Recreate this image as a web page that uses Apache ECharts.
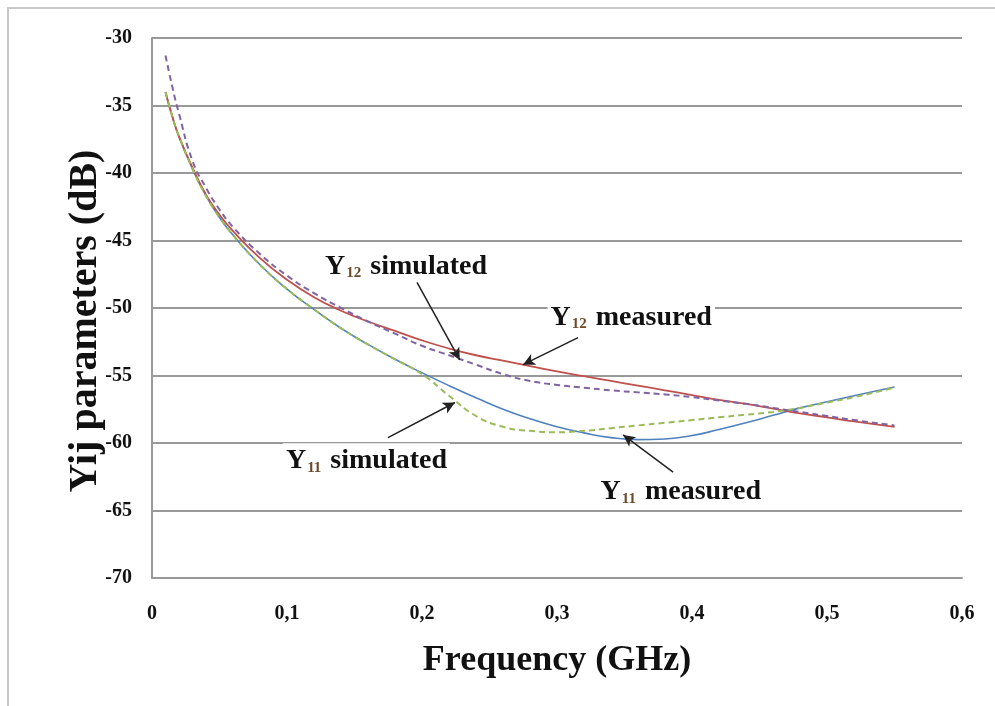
<!DOCTYPE html>
<html>
<head>
<meta charset="utf-8">
<script src="https://cdn.jsdelivr.net/npm/echarts@6/dist/echarts.min.js"></script>
<style>
  html, body { margin: 0; padding: 0; background: #fff; }
  #chart { width: 995px; height: 706px; }
</style>
</head>
<body>
<div id="chart"></div>
<script>
// frequency points (GHz)
const freq = [0.01, 0.015, 0.02, 0.03, 0.04, 0.05, 0.06, 0.08, 0.1, 0.12, 0.14, 0.16, 0.18, 0.2,
  0.22, 0.24, 0.26, 0.28, 0.3, 0.32, 0.34, 0.36, 0.38, 0.4, 0.42, 0.44, 0.46, 0.48, 0.5, 0.52, 0.55];

const y12Measured = [-34.0, -35.8, -37.3, -39.6, -41.6, -43.1, -44.3, -46.3, -47.9, -49.2, -50.2, -51.0, -51.7, -52.4,
  -53.0, -53.5, -53.9, -54.3, -54.7, -55.05, -55.4, -55.75, -56.1, -56.45, -56.8, -57.1, -57.45, -57.8, -58.1, -58.4, -58.8];

const y12Simulated = [-31.3, -33.6, -35.6, -39.1, -41.1, -42.7, -44.0, -46.0, -47.6, -48.9, -50.0, -51.0, -51.9, -52.8,
  -53.5, -54.2, -54.9, -55.4, -55.7, -55.9, -56.1, -56.25, -56.4, -56.6, -56.85, -57.1, -57.4, -57.7, -58.0, -58.3, -58.7];

const y11Measured = [-34.0, -35.8, -37.3, -39.7, -41.7, -43.3, -44.6, -46.8, -48.6, -50.1, -51.5, -52.7, -53.8, -54.8,
  -55.75, -56.65, -57.5, -58.2, -58.8, -59.25, -59.6, -59.75, -59.7, -59.45, -59.0, -58.5, -57.95, -57.4, -56.95, -56.5, -55.85];

const y11Simulated = [-34.0, -35.8, -37.3, -39.7, -41.7, -43.3, -44.6, -46.8, -48.6, -50.1, -51.5, -52.7, -53.8, -54.9,
  -56.5, -58.0, -58.8, -59.1, -59.2, -59.1, -58.9, -58.7, -58.5, -58.3, -58.1, -57.9, -57.7, -57.4, -57.0, -56.6, -55.9];

const xTicks = ['0', '0,1', '0,2', '0,3', '0,4', '0,5', '0,6'];

const serif = 'Liberation Serif';
const pairs = vals => freq.map((f, i) => [f, vals[i]]);

const rich = {
  y: { fontFamily: serif, fontWeight: 'bold', fontSize: 28, color: '#111', lineHeight: 32, verticalAlign: 'bottom' },
  s: { fontFamily: serif, fontWeight: 'bold', fontSize: 15, color: '#6b4a2a', lineHeight: 32, verticalAlign: 'bottom', padding: [0, 2, 0, 1] },
  t: { fontFamily: serif, fontWeight: 'bold', fontSize: 28, color: '#111', lineHeight: 32, verticalAlign: 'bottom' }
};

function note(coord, sub, word) {
  return {
    coord: coord,
    symbol: 'circle',
    symbolSize: 0,
    label: {
      show: true,
      position: 'right',
      distance: 0,
      formatter: '{y|Y}{s|' + sub + '}{t| ' + word + '}',
      rich: rich,
      backgroundColor: '#fff',
      padding: [0, 3, 0, 3]
    }
  };
}

function arrow(from, to) {
  return [{ coord: from }, { coord: to }];
}

const chart = echarts.init(document.getElementById('chart'));

const lineBase = {
  type: 'line',
  smooth: true,
  showSymbol: false,
  symbol: 'none',
  animation: false
};

chart.setOption({
  animation: false,
  backgroundColor: '#fff',
  graphic: [{
    type: 'rect',
    shape: { x: 8, y: 8, width: 1100, height: 800 },
    style: { fill: 'none', stroke: '#c8c8c8', lineWidth: 2 },
    silent: true
  }],
  grid: { left: 152, right: 33, top: 38, bottom: 128 },
  xAxis: {
    type: 'value',
    min: 0,
    max: 0.6,
    interval: 0.1,
    name: 'Frequency (GHz)',
    nameLocation: 'middle',
    nameGap: 65,
    nameMoveOverlap: false,
    nameTextStyle: { fontFamily: serif, fontWeight: 'bold', fontSize: 36, color: '#111' },
    axisLine: { show: true, lineStyle: { color: '#999', width: 2 } },
    axisTick: { show: false },
    splitLine: { show: false },
    axisLabel: {
      margin: 26,
      fontFamily: serif, fontWeight: 'bold', fontSize: 20, color: '#111',
      formatter: v => xTicks[Math.round(v * 10)]
    }
  },
  yAxis: {
    type: 'value',
    min: -70,
    max: -30,
    interval: 5,
    name: 'Yij parameters (dB)',
    nameLocation: 'middle',
    nameGap: 46,
    nameMoveOverlap: false,
    nameTextStyle: { fontFamily: serif, fontWeight: 'bold', fontSize: 40, color: '#111', padding: [0, 26, 0, 0] },
    axisLine: { show: true, lineStyle: { color: '#999', width: 2 } },
    axisTick: { show: false },
    splitLine: { show: true, lineStyle: { color: '#999', width: 2 } },
    axisLabel: { margin: 20, fontFamily: serif, fontWeight: 'bold', fontSize: 20, color: '#111' }
  },
  series: [
    Object.assign({}, lineBase, {
      name: 'Y11 measured',
      data: pairs(y11Measured),
      lineStyle: { color: '#4F81BD', width: 1.6 }
    }),
    Object.assign({}, lineBase, {
      name: 'Y12 measured',
      data: pairs(y12Measured),
      lineStyle: { color: '#C0504D', width: 1.8 }
    }),
    Object.assign({}, lineBase, {
      name: 'Y11 simulated',
      data: pairs(y11Simulated),
      lineStyle: { color: '#9BBB59', width: 2, type: [6, 4] }
    }),
    Object.assign({}, lineBase, {
      name: 'Y12 simulated',
      data: pairs(y12Simulated),
      lineStyle: { color: '#8064A2', width: 2, type: [6, 4] },
      markLine: {
        silent: true,
        animation: false,
        symbol: ['none', 'arrow'],
        symbolSize: [9, 12],
        label: { show: false },
        lineStyle: { color: '#222', width: 1.5, type: 'solid' },
        data: [
          arrow([0.1963, -48.1], [0.228, -53.85]),
          arrow([0.3156, -52.2], [0.2748, -54.2]),
          arrow([0.1748, -59.6], [0.2244, -57.0]),
          arrow([0.386, -62.15], [0.349, -59.4])
        ]
      },
      markPoint: {
        silent: true,
        animation: false,
        data: [
          note([0.126, -46.8], '12', 'simulated'),
          note([0.293, -50.6], '12', 'measured'),
          note([0.097, -61.2], '11', 'simulated'),
          note([0.33, -63.5], '11', 'measured')
        ]
      }
    })
  ]
});
</script>
</body>
</html>
